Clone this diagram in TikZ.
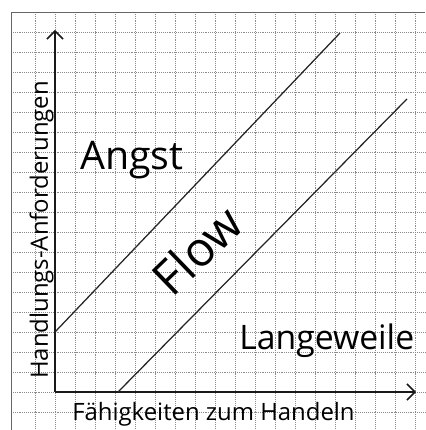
\documentclass[tikz,border=0pt]{standalone}
\usepackage{fontspec}
\setmainfont{Open Sans}
\usetikzlibrary{arrows.meta}

\begin{document}
\begin{tikzpicture}[
		x=0.5cm, y=0.5cm,
		gridline/.style={black!45, densely dotted, line width=0.35pt},
		frame/.style={black!60, line width=0.6pt},
		axis/.style={-{Straight Barb[length=2mm, width=4mm]}, line width=1.1pt, black!90},
		border/.style={line width=0.9pt, black!85},
		region/.style={font=\fontsize{28}{30}\selectfont, inner sep=0pt},
		axislabel/.style={font=\fontsize{17}{19}\selectfont, inner sep=0pt}
	]
	\useasboundingbox (-2.75,-1.9) rectangle (18.5,19.6);
	% kariertes Papier
	\foreach \i in {-1,...,18}
		\draw[gridline] (\i,-1.9) -- (\i,19);
	\foreach \j in {-1,...,18}
		\draw[gridline] (-2.2,\j) -- (18.5,\j);
	\draw[frame] (-2.2,-1.9) -- (-2.2,19) -- (18.5,19);

	\coordinate (origin) at (0,0);
	\coordinate (ytip) at (0,18.1);
	\coordinate (xtip) at (18.05,0);
	\coordinate (upstart) at (0,3);
	\coordinate (upend) at (14.25,17.95);
	\coordinate (lowstart) at (3.15,0);
	\coordinate (lowend) at (17.6,14.65);

	\draw[axis] (origin) -- (ytip);
	\draw[axis] (origin) -- (xtip);
	\draw[border] (upstart) -- (upend);
	\draw[border] (lowstart) -- (lowend);

	\node[region, anchor=base west] (angst) at (1.25,11.1) {Angst};
	\node[region, font=\fontsize{34}{36}\selectfont, rotate=44] (flow) at (7.1,7.1) {Flow};
	\node[region, font=\fontsize{24}{26}\selectfont, anchor=base west] (langeweile) at (9.2,2.1) {Langeweile};
	\node[axislabel, anchor=base west] (xlabel) at (0.85,-1.4) {Fähigkeiten zum Handeln};
	\node[axislabel, rotate=90, anchor=base] (ylabel) at (-0.35,8.1) {Handlungs-Anforderungen};
\end{tikzpicture}
\end{document}
